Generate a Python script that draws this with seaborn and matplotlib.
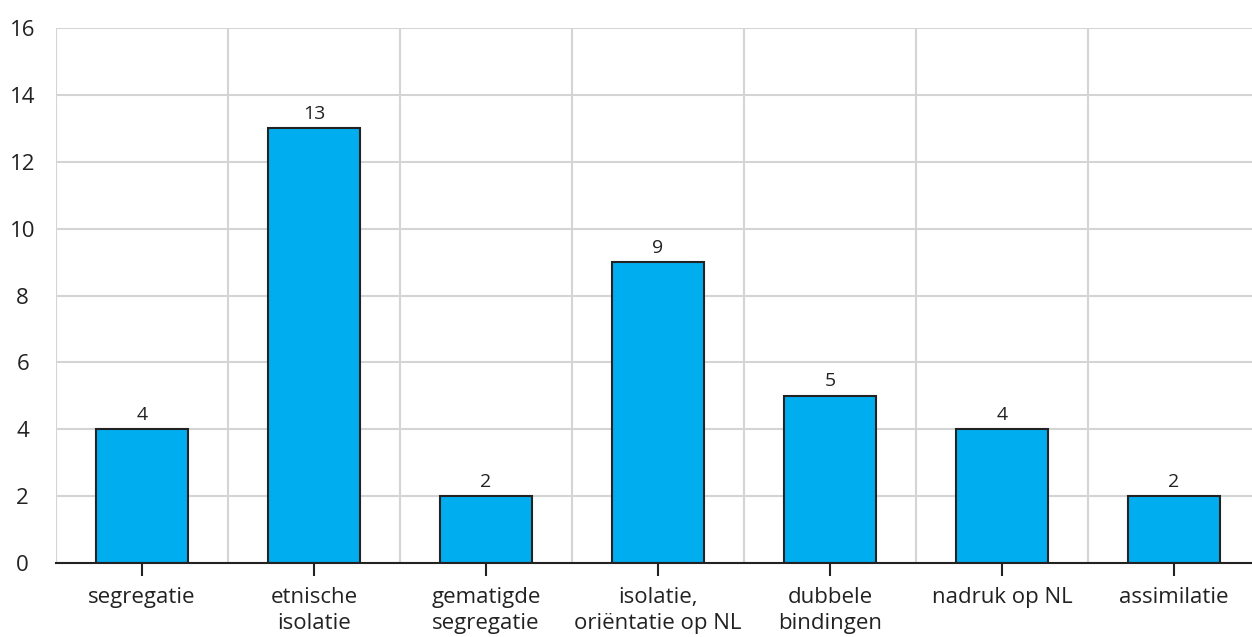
import matplotlib
matplotlib.use("Agg")
import matplotlib.pyplot as plt
import seaborn as sns
import pandas as pd
import numpy as np

categories = ["segregatie", "etnische\nisolatie", "gematigde\nsegregatie",
              "isolatie,\noriëntatie op NL", "dubbele\nbindingen",
              "nadruk op NL", "assimilatie"]
values = [4, 13, 2, 9, 5, 4, 2]
yticks = [0, 2, 4, 6, 8, 10, 12, 14, 16]

sns.set_theme(style="white")
plt.rcParams['font.family'] = ['Open Sans', 'DejaVu Sans']

df = pd.DataFrame({"cat": categories, "val": values})

fig = plt.figure(figsize=(12.52, 6.37), dpi=100)
ax = fig.add_axes([56/1252, 74/637, 1204/1252, 535/637])

sns.barplot(data=df, x="cat", y="val", color="#00AEEF", saturation=1,
            width=0.53, edgecolor="#222222", linewidth=1.5, ax=ax, zorder=3)

ax.set_ylim(0, 16)
ax.set_xlim(-0.5, len(categories) - 0.5)
ax.set_yticks(yticks)
ax.set_yticklabels([str(t) for t in yticks], fontsize=16, color="#222222")
ax.set_xticks(range(len(categories)))
ax.set_xticklabels(categories, fontsize=16, color="#222222", linespacing=1.3)
ax.set_xlabel("")
ax.set_ylabel("")

# vertical gridlines between categories
ax.set_xticks(np.arange(-0.5, len(categories), 1), minor=True)
ax.grid(True, which="minor", axis="x", color="#d4d4d4", linewidth=1.5, zorder=0)
ax.grid(True, which="major", axis="y", color="#d4d4d4", linewidth=1.5, zorder=0)
ax.grid(False, which="major", axis="x")

ax.tick_params(axis="x", which="major", length=9, width=1.5, color="#222222",
               direction="out", pad=8.5, bottom=True)
ax.tick_params(axis="x", which="minor", length=0)
ax.tick_params(axis="y", length=0, pad=24)
for lab in ax.get_yticklabels():
    lab.set_horizontalalignment("center")

for s in ["top", "right", "left"]:
    ax.spines[s].set_visible(False)
ax.spines["bottom"].set_color("#222222")
ax.spines["bottom"].set_linewidth(1.5)
ax.spines["bottom"].set_zorder(4)

ax.bar_label(ax.containers[0], labels=[str(v) for v in values], padding=4,
             fontsize=14, color="#222222")

fig.savefig("out.png", dpi=100)
